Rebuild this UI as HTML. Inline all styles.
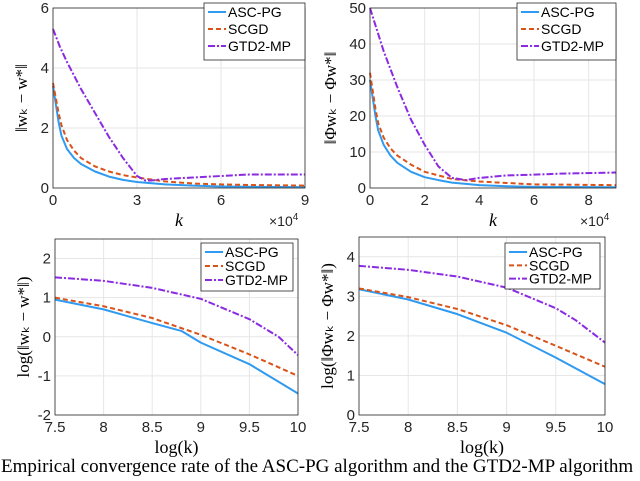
<!DOCTYPE html>
<html><head><meta charset="utf-8"><style>
body{margin:0;background:#fff;width:640px;height:476px;overflow:hidden}
svg text{font-family:"Liberation Sans",sans-serif}
.serif{font-family:"Liberation Serif",serif}
</style></head><body>
<svg id="s" width="640" height="476">
<text class="serif" x="1" y="472" font-size="19">Empirical convergence rate of the ASC-PG algorithm and the GTD2-MP algorithm</text>
</svg>
<script>
// Top-left: ||w_k - w*|| vs k (x1e4)
const tlK_asc=[0,0.1,0.2,0.3,0.5,0.75,1,1.5,2,2.5,3,4,5,6,7,9], tlV_asc=[3.4,2.8,2.2,1.75,1.3,1.0,0.8,0.55,0.38,0.27,0.2,0.12,0.08,0.05,0.04,0.03];
const tlK_scgd=[0,0.1,0.2,0.3,0.5,0.75,1,1.5,2,2.5,3,4,5,6,7,9], tlV_scgd=[3.5,3.0,2.5,2.1,1.6,1.25,1.0,0.72,0.55,0.43,0.35,0.22,0.15,0.12,0.1,0.08];
const tlK_gtd=[0,0.25,0.5,1,1.5,2,2.5,3,3.3,3.5,4,5,6,7,9], tlV_gtd=[5.3,4.7,4.2,3.3,2.5,1.7,1.0,0.4,0.25,0.25,0.3,0.35,0.4,0.45,0.45];
// Top-right: ||Phi w_k - Phi w*|| vs k
const trK_asc=[0,0.1,0.2,0.3,0.5,0.75,1,1.5,2,2.5,3,4,5,6,9], trV_asc=[30,25,20,16,12,9,7,4.5,3,2.2,1.5,0.8,0.5,0.3,0.2];
const trK_scgd=[0,0.1,0.2,0.3,0.5,0.75,1,1.5,2,2.5,3,4,5,6,9], trV_scgd=[32,27,22,18,14,11,9,6.5,4.5,3.5,2.5,1.8,1.4,1.0,0.8];
const trK_gtd=[0,0.25,0.5,1,1.5,2,2.5,3,3.5,4,5,6,7,9], trV_gtd=[50,44,38,28,19,12,6,2.8,2.2,2.8,3.5,3.7,4,4.3];
// Bottom-left: log plots
const blK_asc=[7.5,8,8.5,8.8,9,9.5,10], blV_asc=[0.95,0.7,0.35,0.15,-0.15,-0.7,-1.45];
const blK_scgd=[7.5,8,8.5,9,9.5,10], blV_scgd=[1.0,0.78,0.48,0.05,-0.45,-1.0];
const blK_gtd=[7.5,8,8.5,9,9.5,9.8,10], blV_gtd=[1.52,1.43,1.25,0.97,0.45,0.0,-0.47];
// Bottom-right
const brK_asc=[7.5,8,8.5,9,9.5,10], brV_asc=[3.18,2.92,2.55,2.08,1.45,0.78];
const brK_scgd=[7.5,8,8.5,9,9.5,10], brV_scgd=[3.2,2.98,2.68,2.27,1.75,1.22];
const brK_gtd=[7.5,8,8.5,9,9.5,9.7,10], brV_gtd=[3.77,3.67,3.5,3.22,2.7,2.4,1.83];
const xt1=[0,3,6,9], xt2=[0,2,4,6,8], xt3=[7.5,8,8.5,9,9.5,10];
const yt1=[0,2,4,6], yt2=[0,10,20,30,40,50], yt3=[-2,-1,0,1,2], yt4=[0,1,2,3,4];

const NS="http://www.w3.org/2000/svg", S=document.getElementById('s');
function mk(t,a,p){const e=document.createElementNS(NS,t);for(const k in a)e.setAttribute(k,a[k]);(p||S).appendChild(e);return e;}
const colors=['#2f9af0','#d95319','#8a2be2'], dashes=['','5,3','7,2,2,2'], names=['ASC-PG','SCGD','GTD2-MP'];
function chart(c){
 const g=mk('g',{});
 
 
 const X=v=>c.l+(v-c.x0)/(c.x1-c.x0)*(c.r-c.l), Y=v=>c.b-(v-c.y0)/(c.y1-c.y0)*(c.b-c.t);
 mk('rect',{x:c.l,y:c.t,width:c.r-c.l,height:c.b-c.t,fill:'#fff'},g);
 c.xt.forEach(v=>{mk('line',{x1:X(v),x2:X(v),y1:c.t,y2:c.b,stroke:'#e6e6e6'},g);
  const t=mk('text',{x:X(v),y:c.b+17,'font-size':15,'text-anchor':'middle',fill:'#262626'},g);t.textContent=v;
  
  });
 c.yt.forEach(v=>{mk('line',{x1:c.l,x2:c.r,y1:Y(v),y2:Y(v),stroke:'#e6e6e6'},g);
  const t=mk('text',{x:c.l-4,y:Y(v)+5,'font-size':15,'text-anchor':'end',fill:'#262626'},g);t.textContent=v;
  
  });
 c.series.forEach((s,i)=>{const p=mk('polyline',{points:s[0].map((k,j)=>X(k)+','+Y(s[1][j])).join(' '),fill:'none',stroke:colors[i],'stroke-width':2,'stroke-dasharray':dashes[i],'stroke-linejoin':'round'},g);
  
  });
 mk('rect',{x:c.l,y:c.t,width:c.r-c.l,height:c.b-c.t,fill:'none',stroke:'#262626','stroke-width':0.8},g);
 const L=c.leg, lg=mk('g',{},g);
 
 
 mk('rect',{x:L[0],y:L[1],width:L[2],height:L[3],fill:'#fff',stroke:'#262626','stroke-width':0.8},lg);
 names.forEach((n,i)=>{const yy=L[1]+9+i*(L[3]-6)/3;
  mk('line',{x1:L[0]+4,x2:L[0]+22,y1:yy,y2:yy,stroke:colors[i],'stroke-width':2,'stroke-dasharray':dashes[i]},lg);
  const t=mk('text',{x:L[0]+24,y:yy+5,'font-size':14,fill:'#000'},lg);t.textContent=n;
  
  });
 const xl=mk('text',{x:(c.l+c.r)/2,y:c.b+38,'font-size':18,'text-anchor':'middle',class:'serif','font-style':c.xi?'italic':'normal'},g);xl.textContent=c.xl;
 
 
 const yl=mk('text',{x:0,y:0,'font-size':17,'text-anchor':'middle',class:'serif',transform:`translate(${c.l-c.yo},${(c.t+c.b)/2}) rotate(-90)`},g);yl.textContent=c.yl;
 
 
 if(c.exp){const t=mk('text',{x:c.r-36,y:c.b+38,'font-size':14,fill:'#262626'},g);t.innerHTML='×10<tspan dy="-6" font-size="10">4</tspan>';
  
  }
}
chart({name:'chart-top-left',l:53,r:305,t:8,b:188,x0:0,x1:9,y0:0,y1:6,xt:xt1,yt:yt1,series:[[tlK_asc,tlV_asc],[tlK_scgd,tlV_scgd],[tlK_gtd,tlV_gtd]],leg:[204,3,101,57],xl:'k',xi:1,yl:'‖w\u2096 − w*‖',yo:26,exp:1});
chart({name:'chart-top-right',l:370,r:616,t:8,b:188,x0:0,x1:9,y0:0,y1:50,xt:xt2,yt:yt2,series:[[trK_asc,trV_asc],[trK_scgd,trV_scgd],[trK_gtd,trV_gtd]],leg:[517,3,99,57],xl:'k',xi:1,yl:'‖Φw\u2096 − Φw*‖',yo:34,exp:1});
chart({name:'chart-bottom-left',l:55,r:298,t:239,b:415,x0:7.5,x1:10,y0:-2,y1:2.5,xt:xt3,yt:yt3,series:[[blK_asc,blV_asc],[blK_scgd,blV_scgd],[blK_gtd,blV_gtd]],leg:[201,243,92,48],xl:'log(k)',yl:'log(‖w\u2096 − w*‖)',yo:26});
chart({name:'chart-bottom-right',l:359,r:605,t:237,b:415,x0:7.5,x1:10,y0:0,y1:4.5,xt:xt3,yt:yt4,series:[[brK_asc,brV_asc],[brK_scgd,brV_scgd],[brK_gtd,brV_gtd]],leg:[505,243,95,46],xl:'log(k)',yl:'log(‖Φw\u2096 − Φw*‖)',yo:26});
</script>
</body></html>
